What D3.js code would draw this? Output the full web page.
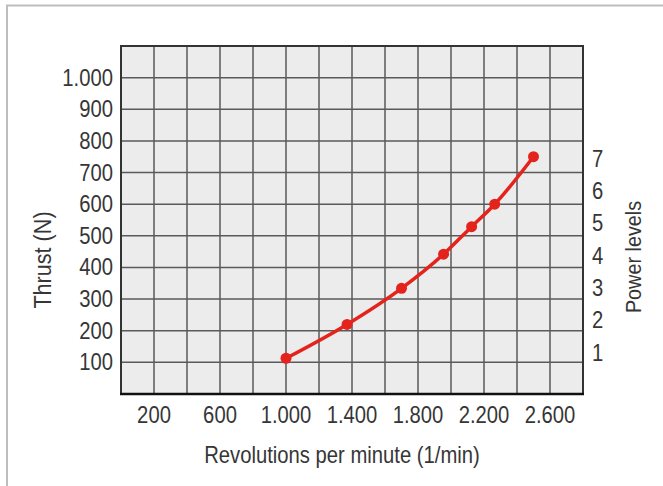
<!DOCTYPE html>
<html>
<head>
<meta charset="utf-8">
<script src="https://cdn.jsdelivr.net/npm/d3@7"></script>
<style>
  html, body { margin: 0; padding: 0; background: #fff; }
  svg { display: block; }
  text { font-family: "Liberation Sans", Arial, sans-serif; fill: #363636; }
</style>
</head>
<body>
<svg id="chart" width="663" height="486"></svg>
<script>
// ---- data ----
const rpm    = [1000, 1370, 1700, 1955, 2125, 2265, 2500];
const thrust = [113, 220, 334, 442, 529, 600, 750];
const xTickLabels = [200, 600, 1000, 1400, 1800, 2200, 2600];
const yTickLabels = [100, 200, 300, 400, 500, 600, 700, 800, 900, 1000];
const powerLevels = [1, 2, 3, 4, 5, 6, 7];
const xGrid = d3.range(0, 2801, 200);
const yGrid = d3.range(0, 1101, 100);

// ---- layout ----
const W = 663, H = 486;
const m = { left: 121, top: 46, right: 80, bottom: 92 };
const svg = d3.select("#chart");

const x = d3.scaleLinear().domain([0, 2800]).range([m.left, W - m.right]);
const y = d3.scaleLinear().domain([0, 1100]).range([H - m.bottom, m.top]);
const p = d3.scaleLinear().domain([1, 7]).range([y(131), y(744)]);

const loc = d3.formatLocale({ decimal: ",", thousands: ".", grouping: [3], currency: ["", ""] });
const fmt = loc.format(",");

function txt(parent, tx, ty, str, size, anchor, rot, sx) {
  return parent.append("text")
    .attr("transform", `translate(${tx},${ty}) rotate(${rot || 0}) scale(${sx},1)`)
    .attr("text-anchor", anchor).attr("font-size", size)
    .text(str);
}

// outer frame (top + left)
svg.append("path")
  .attr("d", "M7,486 L7,5.5 L663,5.5")
  .attr("fill", "none").attr("stroke", "#bdbdbd").attr("stroke-width", 2);

// plot background
svg.append("rect")
  .attr("x", x(0)).attr("y", y(1100))
  .attr("width", x(2800) - x(0)).attr("height", y(0) - y(1100))
  .attr("fill", "#ececec");

// grid
const g = svg.append("g");
g.selectAll("line.vx").data(xGrid.slice(1, -1)).join("line")
  .attr("x1", d => x(d)).attr("x2", d => x(d))
  .attr("y1", y(0)).attr("y2", y(1100))
  .attr("stroke", "#5a5a5a").attr("stroke-width", 1.5);
g.selectAll("line.hy").data(yGrid.slice(1, -1)).join("line")
  .attr("y1", d => y(d)).attr("y2", d => y(d))
  .attr("x1", x(0)).attr("x2", x(2800))
  .attr("stroke", "#5a5a5a").attr("stroke-width", 1.5);

// border
svg.append("rect")
  .attr("x", x(0)).attr("y", y(1100))
  .attr("width", x(2800) - x(0)).attr("height", y(0) - y(1100))
  .attr("fill", "none").attr("stroke", "#333").attr("stroke-width", 2);
svg.append("line")
  .attr("x1", x(0) - 1).attr("x2", x(2800) + 1)
  .attr("y1", y(0)).attr("y2", y(0))
  .attr("stroke", "#111").attr("stroke-width", 2.5);

// x tick labels
const gx = svg.append("g");
xTickLabels.forEach(d => txt(gx, x(d), y(0) + 29, fmt(d), 23, "middle", 0, 0.88));

// y tick labels
const gy = svg.append("g");
yTickLabels.forEach(d => txt(gy, x(0) - 8, y(d) + 8, fmt(d), 23, "end", 0, 0.88));

// right power-level labels
const gp = svg.append("g");
powerLevels.forEach(d => txt(gp, x(2800) + 9, p(d) + 8, d, 23, "start", 0, 0.88));

// axis titles
txt(svg, 342, 463, "Revolutions per minute (1/min)", 23, "middle", 0, 0.88);
txt(svg, 51, 260, "Thrust (N)", 24, "middle", -90, 0.9);
txt(svg, 641, 257, "Power levels", 22.5, "middle", -90, 0.88);

// series
const pts = rpm.map((r, i) => [r, thrust[i]]);
const line = d3.line().x(d => x(d[0])).y(d => y(d[1])).curve(d3.curveMonotoneX);
svg.append("path").datum(pts)
  .attr("d", line).attr("fill", "none")
  .attr("stroke", "#e4231c").attr("stroke-width", 3.5)
  .attr("stroke-linejoin", "round");
svg.append("g").selectAll("circle").data(pts).join("circle")
  .attr("cx", d => x(d[0])).attr("cy", d => y(d[1])).attr("r", 5.5)
  .attr("fill", "#e4231c");
</script>
</body>
</html>
